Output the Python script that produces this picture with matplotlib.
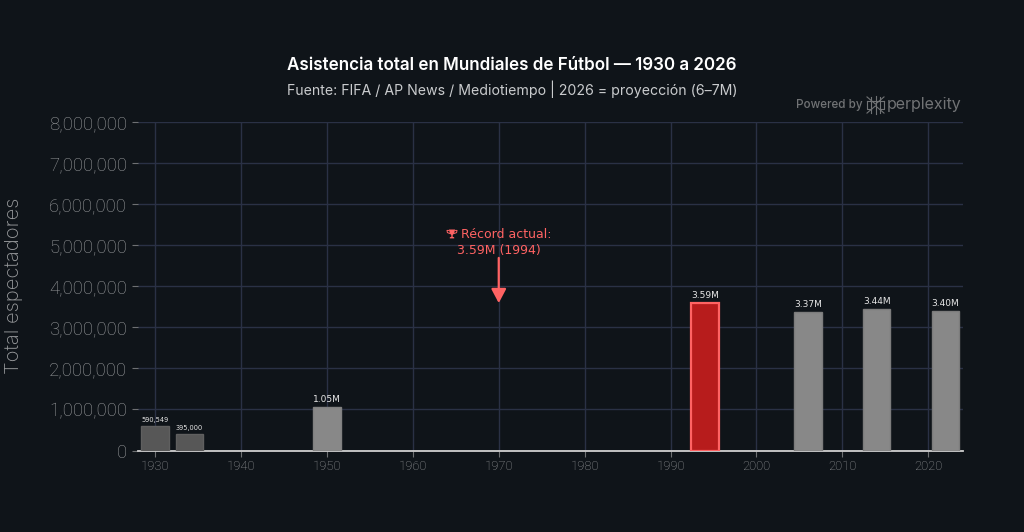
"""World Cup total attendance, 1930 to 2022, as a dark bar chart."""
import matplotlib

matplotlib.use("Agg")
import matplotlib.pyplot as plt  # noqa: E402
from matplotlib.patches import Polygon  # noqa: E402
from matplotlib.ticker import FuncFormatter  # noqa: E402

BG_COLOR = "#0f1419"
GRID_COLOR = "#2a3145"
TICK_COLOR = "#6e7073"
TICK_TEXT_COLOR = "#9a9c9e"
RECORD_COLOR = "#ff6363"
BRAND_COLOR = "#717375"

years = [1930, 1934, 1950, 1994, 2006, 2014, 2022]
attendance = [590549, 395000, 1050000, 3590000, 3370000, 3440000, 3400000]
bar_labels = ["590,549", "395,000", "1.05M", "3.59M", "3.37M", "3.44M", "3.40M"]
bar_colors = ["#575757", "#575757", "#888888", "#b71c1c", "#888888", "#888888", "#888888"]
edge_colors = ["#5f5f5f", "#5f5f5f", "#808080", "#ff6363", "#7c7c7c", "#7c7c7c", "#7c7c7c"]
label_sizes = [4.8, 4.8, 6.5, 6.5, 6.5, 6.5, 6.5]
x_ticks = [1930, 1940, 1950, 1960, 1970, 1980, 1990, 2000, 2010, 2020]
y_ticks = [0, 1000000, 2000000, 3000000, 4000000, 5000000, 6000000, 7000000, 8000000]
record_year = 1970
record_tip = 3590000
record_tail = 4690000

W, H = 1024, 532


def px_line(fig, points, color, width):
    """Draw a polyline given in pixel coordinates, origin top left."""
    xs = [p[0] / W for p in points]
    ys = [1 - p[1] / H for p in points]
    fig.add_artist(plt.Line2D(xs, ys, color=color, linewidth=width,
                              transform=fig.transFigure, zorder=6))


def draw_logo(fig, cx, cy, s, color):
    """Knot-like brand mark next to the wordmark."""
    segs = [
        [(-s, -s * 0.95), (0, -s * 0.1), (s, -s * 0.95)],
        [(-s, s * 0.95), (0, s * 0.1), (s, s * 0.95)],
        [(0, -s * 1.05), (0, s * 1.05)],
        [(-s, -s * 0.45), (-s, s * 0.5), (-s * 0.5, s * 0.5)],
        [(s, -s * 0.45), (s, s * 0.5), (s * 0.5, s * 0.5)],
        [(-s, -s * 0.45), (s, -s * 0.45)],
        [(-s * 0.55, -s * 0.95), (-s * 0.55, s * 0.95)],
        [(s * 0.55, -s * 0.95), (s * 0.55, s * 0.95)],
    ]
    for seg in segs:
        px_line(fig, [(cx + x, cy + y) for x, y in seg], color, 0.8)


def draw_trophy(fig, cx, cy, color):
    """Small cup, since no installed family carries the trophy sign."""
    cup = [(cx - 3, cy - 4.5), (cx + 3, cy - 4.5), (cx + 2.2, cy - 0.5), (cx + 0.7, cy + 1),
           (cx + 0.7, cy + 2.8), (cx + 2.2, cy + 3.3), (cx + 2.2, cy + 4.4), (cx - 2.2, cy + 4.4),
           (cx - 2.2, cy + 3.3), (cx - 0.7, cy + 2.8), (cx - 0.7, cy + 1), (cx - 2.2, cy - 0.5)]
    fig.add_artist(Polygon([(x / W, 1 - y / H) for x, y in cup], closed=True, facecolor=color,
                           edgecolor="none", transform=fig.transFigure, zorder=6))
    px_line(fig, [(cx - 3, cy - 3.6), (cx - 5, cy - 3.6), (cx - 4.6, cy - 1.4), (cx - 2.4, cy - 0.6)], color, 0.7)
    px_line(fig, [(cx + 3, cy - 3.6), (cx + 5, cy - 3.6), (cx + 4.6, cy - 1.4), (cx + 2.4, cy - 0.6)], color, 0.7)


def main() -> None:
    plt.rcParams["font.family"] = ["Inter", "DejaVu Sans"]

    fig = plt.figure(figsize=(W / 100, H / 100), dpi=100, facecolor=BG_COLOR)
    ax = fig.add_axes([138 / W, 1 - 450.5 / H, 825 / W, 328.5 / H], facecolor=BG_COLOR)

    ax.set_xlim(1928.0, 2024.05)
    ax.set_ylim(0, 8000000)
    ax.set_xticks(x_ticks)
    ax.set_yticks(y_ticks)
    ax.yaxis.set_major_formatter(FuncFormatter(lambda v, _: f"{int(v):,}"))
    ax.grid(True, color=GRID_COLOR, linewidth=1.0)
    ax.set_axisbelow(True)
    for name in ("top", "right", "left"):
        ax.spines[name].set_visible(False)
    ax.spines["bottom"].set_color("#d0d0d0")
    ax.spines["bottom"].set_linewidth(1.3)

    ax.tick_params(axis="y", labelsize=13.4, labelcolor=TICK_TEXT_COLOR, color=TICK_COLOR,
                   length=4, width=0.8, pad=4, labelfontfamily="Roboto")
    ax.tick_params(axis="x", labelsize=9.4, labelcolor=TICK_TEXT_COLOR, color=TICK_COLOR,
                   length=4, width=0.8, pad=3, labelfontfamily="Roboto")
    for label in ax.get_xticklabels() + ax.get_yticklabels():
        label.set_fontweight("light")
    ax.set_ylabel("Total espectadores", fontsize=14.5, fontweight="light", color=TICK_TEXT_COLOR)
    ax.yaxis.set_label_coords(-0.1395, 0.502)

    ax.bar(years, attendance, width=3.2, color=bar_colors, edgecolor=edge_colors,
           linewidth=[1, 1, 1, 1.6, 1, 1, 1], zorder=3)
    for year, value, text, size in zip(years, attendance, bar_labels, label_sizes):
        ax.annotate(text, xy=(year, value), xytext=(0, 2.4), textcoords="offset points",
                    ha="center", va="bottom", fontsize=size, color="#e6e6e6",
                    family="DejaVu Sans", zorder=4)

    ax.annotate("", xy=(record_year, record_tip), xytext=(record_year, record_tail),
                arrowprops=dict(arrowstyle="-|>,head_length=0.85,head_width=0.45",
                                color=RECORD_COLOR, linewidth=1.6,
                                shrinkA=0, shrinkB=0), zorder=4)
    ax.text(record_year, 4720000, "    Récord actual:\n3.59M (1994)", ha="center",
            va="bottom", fontsize=9.0, color=RECORD_COLOR, linespacing=1.28,
            family="DejaVu Sans", zorder=4)
    draw_trophy(fig, 452, 234, RECORD_COLOR)

    fig.text(512 / W, 1 - 66 / H, "Asistencia total en Mundiales de Fútbol — 1930 a 2026",
             ha="center", va="center", fontsize=12.25, fontweight="semibold", color="#ffffff")
    fig.text(512 / W, 1 - 89.5 / H, "Fuente: FIFA / AP News / Mediotiempo | 2026 = proyección (6–7M)",
             ha="center", va="center", fontsize=10.2, color="#c9cbcd")

    fig.text(796 / W, 1 - 105 / H, "Powered by", ha="left", va="center",
             fontsize=8.4, fontweight="medium", color=BRAND_COLOR)
    draw_logo(fig, 875.5, 105, 8.5, BRAND_COLOR)
    fig.text(961.5 / W, 1 - 104 / H, "perplexity", ha="right", va="center",
             fontsize=11.5, color=BRAND_COLOR)

    fig.savefig("out.png", dpi=100, facecolor=BG_COLOR)


if __name__ == "__main__":
    main()
